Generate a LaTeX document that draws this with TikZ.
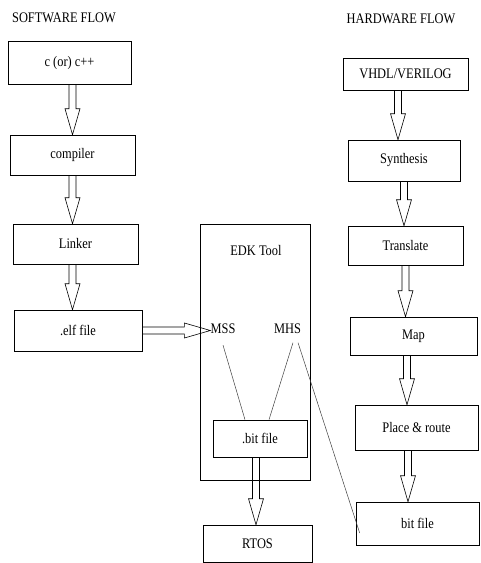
\documentclass[tikz,border=0pt]{standalone}
\usepackage{fontspec}
\setmainfont[FakeStretch=0.85]{Liberation Serif}
\usetikzlibrary{calc}

% hollow block arrow from #1 to #2
\newcommand\hollowarrow[2]{%
  \coordinate (hb) at ($(#2)!26pt!(#1)$);
  \draw[hollow] ($(#1)!3.5pt!90:(#2)$) -- ($(hb)!3.5pt!90:(#2)$)
    -- ($(hb)!7.5pt!90:(#2)$) -- (#2) -- ($(hb)!7.5pt!-90:(#2)$)
    -- ($(hb)!3.5pt!-90:(#2)$) -- ($(#1)!3.5pt!-90:(#2)$);}

\begin{document}
\begin{tikzpicture}[
    x=1pt, y=-1pt,
    every node/.style={font=\fontsize{14.6}{16}\selectfont, inner sep=0pt},
    box/.style n args={2}{draw, line width=0.6pt, minimum width=#1, minimum height=#2},
    hollow/.style={draw, line width=0.6pt, line join=miter},
    wire/.style={draw=black!75, line width=0.5pt}
  ]
    \useasboundingbox (0,0) rectangle (480,563);

    % software flow
    \node (sw) at (64,18) {SOFTWARE FLOW};
    \node[box={123pt}{43pt}] (src) at (69.5,62.5) {c (or) c++};
    \node[box={125pt}{40pt}] (comp) at (72.5,155) {compiler};
    \node[box={125pt}{40pt}] (link) at (75.5,244) {Linker};
    \node[box={128pt}{41pt}] (elf) at (78,330.5) {.elf file};

    % EDK tool
    \node[box={110pt}{256pt}] (edk) at (255,352) {};
    \node (edkt) at (256,251) {EDK Tool};
    \node (mss) at (223,329) {MSS};
    \node (mhs) at (287.5,329) {MHS};
    \node[box={94pt}{37pt}] (bit) at (260,438.5) {.bit file};
    \node[box={109pt}{37pt}] (rtos) at (257.5,543.5) {RTOS};

    % hardware flow
    \node (hw) at (401,19) {HARDWARE FLOW};
    \node[box={125pt}{32pt}] (hdl) at (405.5,74) {VHDL/VERILOG};
    \node[box={112pt}{41pt}] (syn) at (404,160.5) {Synthesis};
    \node[box={115pt}{39pt}] (trans) at (405.5,245.5) {Translate};
    \node[box={127pt}{38pt}] (map) at (413.5,336) {Map};
    \node[box={123pt}{45pt}] (par) at (416.5,427.5) {Place \& route};
    \node[box={123pt}{43pt}] (bitfile) at (417.5,523.5) {bit file};

    \coordinate (s1) at (src.south -| comp.north);
    \coordinate (s3) at ([xshift=-3pt]link.south);
    \coordinate (s5) at ([xshift=-4pt]bit.south);
    \coordinate (h1) at ([xshift=-7.5pt]hdl.south);
    \coordinate (h4) at ([xshift=-6.5pt]map.south);
    \coordinate (h5) at ([xshift=-8.5pt]par.south);

    \hollowarrow{s1}{comp.north}
    \hollowarrow{comp.south}{comp.south |- link.north}
    \hollowarrow{s3}{s3 |- elf.north}
    \hollowarrow{elf.east}{elf.east -| mss.west}
    \hollowarrow{s5}{s5 |- rtos.north}
    \hollowarrow{h1}{h1 |- syn.north}
    \hollowarrow{syn.south}{syn.south |- trans.north}
    \hollowarrow{trans.south}{trans.south |- map.north}
    \hollowarrow{h4}{h4 |- par.north}
    \hollowarrow{h5}{h5 |- bitfile.north}

    \draw[wire] ([yshift=-11pt]mss.south) -- ([xshift=-15pt]bit.north);
    \draw[wire] ([xshift=5.5pt,yshift=-8.5pt]mhs.south) -- ([xshift=9pt]bit.north);
    \draw[wire] ([xshift=10.5pt,yshift=-8.5pt]mhs.south) -- ([xshift=4pt,yshift=-9.5pt]bitfile.west);
  \end{tikzpicture}
\end{document}
